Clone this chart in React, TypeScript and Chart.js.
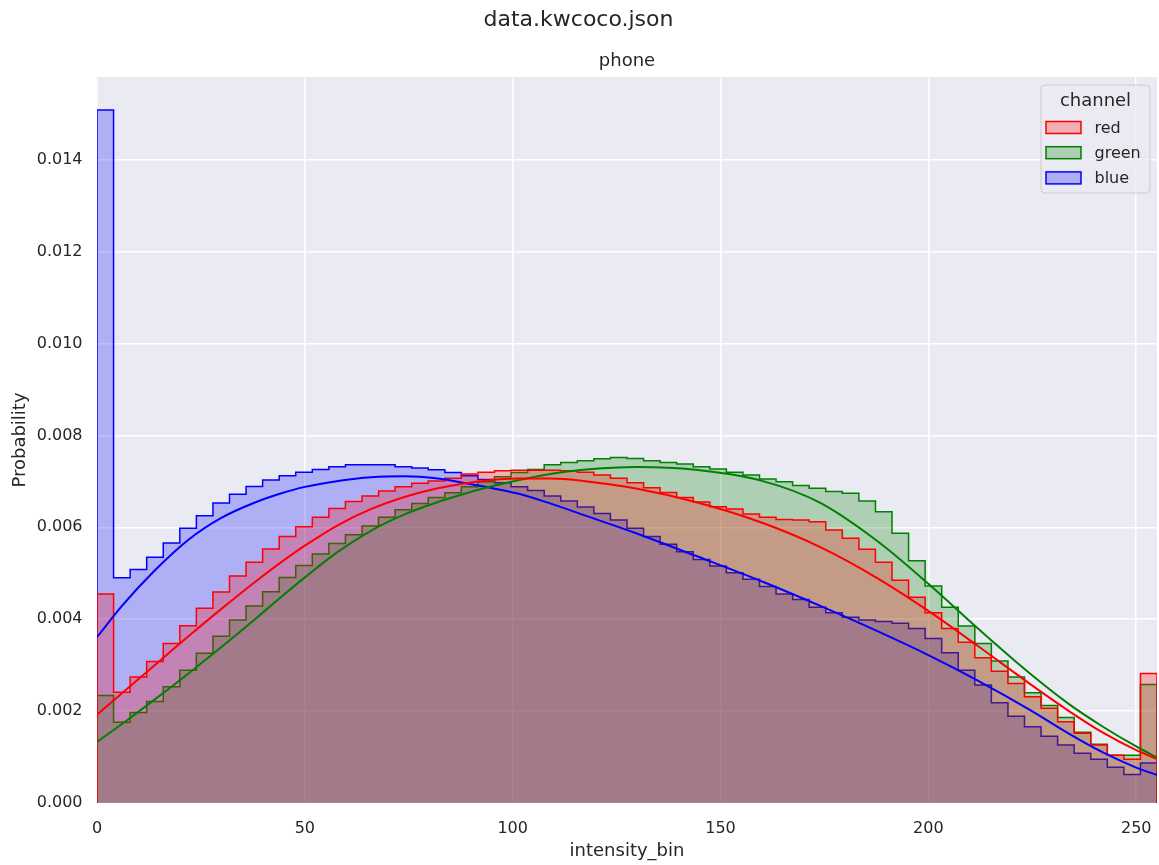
import React, { useEffect, useRef } from "react";
import { Chart, registerables } from "chart.js";

Chart.register(...registerables);

// ---- text ----
const SUPTITLE = "data.kwcoco.json";
const PANEL_TITLE = "phone";
const X_LABEL = "intensity_bin";
const Y_LABEL = "Probability";
const LEGEND_TITLE = "channel";

// ---- categories / styling keys ----
const channels = ["red", "green", "blue"];
const channelColors = ["#ff0000", "#008000", "#0000ff"];
const channelFills = ["rgba(255,0,0,0.25)", "rgba(0,128,0,0.25)", "rgba(0,0,255,0.25)"];

// ---- histogram range (64 bins over 0..255) ----
const RANGE_MIN = 0;
const RANGE_MAX = 255;
const Y_MAX = 0.0158;

// ---- histogram densities per bin ----
const redHist = [
  0.00455, 0.00241, 0.00274, 0.00308, 0.00347, 0.00386, 0.00424, 0.00459,
  0.00494, 0.00524, 0.00553, 0.0058, 0.00601, 0.00622, 0.00641, 0.00656,
  0.00668, 0.00679, 0.00688, 0.00696, 0.00701, 0.00707, 0.00716, 0.0072,
  0.00723, 0.00724, 0.00724, 0.00724, 0.00723, 0.0072, 0.00714, 0.00707,
  0.00697, 0.00686, 0.00676, 0.00665, 0.00655, 0.00645, 0.0064, 0.00629,
  0.00622, 0.00617, 0.00616, 0.00612, 0.00594, 0.00576, 0.00552, 0.00524,
  0.00485, 0.00448, 0.00414, 0.0038, 0.0035, 0.00316, 0.00287, 0.0026,
  0.00231, 0.00206, 0.00177, 0.00152, 0.00126, 0.00104, 0.00095, 0.00282,
];
const greenHist = [
  0.00234, 0.00176, 0.00197, 0.00221, 0.00253, 0.00289, 0.00326, 0.00363,
  0.00398, 0.00429, 0.0046, 0.00491, 0.00517, 0.00542, 0.00565, 0.00584,
  0.00603, 0.00622, 0.00638, 0.00652, 0.00665, 0.00675, 0.00688, 0.00699,
  0.0071, 0.00719, 0.00726, 0.00736, 0.00741, 0.00745, 0.00749, 0.00752,
  0.0075, 0.00745, 0.00741, 0.00738, 0.00732, 0.00727, 0.0072, 0.00714,
  0.00705, 0.00699, 0.00691, 0.00685, 0.00678, 0.00674, 0.00657, 0.00634,
  0.00587, 0.00527, 0.00472, 0.00426, 0.00385, 0.00347, 0.00309, 0.00274,
  0.0024, 0.00212, 0.00186, 0.00154, 0.00128, 0.00104, 0.00104, 0.00258,
];
const blueHist = [
  0.01508, 0.0049, 0.00508, 0.00535, 0.00566, 0.00598, 0.00625, 0.00653,
  0.00672, 0.00689, 0.00703, 0.00712, 0.0072, 0.00726, 0.00732, 0.00736,
  0.00736, 0.00736, 0.00732, 0.00729, 0.00725, 0.00719, 0.00712, 0.00704,
  0.00697, 0.00688, 0.0068, 0.00668, 0.00657, 0.00644, 0.0063, 0.00616,
  0.00598, 0.0058, 0.00563, 0.00547, 0.0053, 0.00516, 0.00501, 0.00487,
  0.00471, 0.00455, 0.00443, 0.00426, 0.00414, 0.00404, 0.00398, 0.00395,
  0.00391, 0.0038, 0.00358, 0.00327, 0.00289, 0.00257, 0.00218, 0.00189,
  0.00166, 0.00145, 0.00126, 0.00108, 0.00095, 0.00078, 0.00062, 0.00087,
];

// ---- fitted curves (sampled) ----
const fitX = [0, 6, 14, 22, 30, 38, 44, 50, 58, 66, 74, 82, 88, 94, 101, 109, 117, 130, 144, 160, 174, 188, 200, 212, 224, 234, 242, 250, 255];
const redFit = [
  0.00192, 0.00239, 0.00301, 0.00363, 0.00423, 0.00481, 0.00522, 0.0056, 0.00605, 0.0064,
  0.00666, 0.00685, 0.00695, 0.00702, 0.00706, 0.00706, 0.00701, 0.00684, 0.00655, 0.0061,
  0.00557, 0.00488, 0.00418, 0.00341, 0.00262, 0.00199, 0.00153, 0.00115, 0.00096,
];
const greenFit = [
  0.00133, 0.00172, 0.00226, 0.00282, 0.0034, 0.004, 0.00446, 0.00491, 0.00547, 0.00593,
  0.00628, 0.00655, 0.00672, 0.00687, 0.00702, 0.00716, 0.00725, 0.00731, 0.00725, 0.00701,
  0.00653, 0.00568, 0.00477, 0.00379, 0.00285, 0.00214, 0.00166, 0.00123, 0.00099,
];
const blueFit = [
  0.00361, 0.00429, 0.00507, 0.00573, 0.00621, 0.00654, 0.00673, 0.00688, 0.00701, 0.00709,
  0.00711, 0.00706, 0.00697, 0.00687, 0.00674, 0.00652, 0.00627, 0.00586, 0.00538, 0.00482,
  0.00429, 0.00373, 0.00322, 0.00266, 0.00205, 0.0015, 0.0011, 0.00077, 0.00061,
];

// ---- ticks ----
const xTickValues = [0, 50, 100, 150, 200, 250];
const xTickLabels = ["0", "50", "100", "150", "200", "250"];
const yTickValues = [0, 0.002, 0.004, 0.006, 0.008, 0.01, 0.012, 0.014];
const yTickLabels = ["0.000", "0.002", "0.004", "0.006", "0.008", "0.010", "0.012", "0.014"];

const FONT = "'DejaVu Sans', 'Liberation Sans', sans-serif";
const TEXT = "#262626";
const BG = "#eaeaf2";

function stepPoints(hist: number[]) {
  const w = (RANGE_MAX - RANGE_MIN) / hist.length;
  const pts: { x: number; y: number }[] = [{ x: RANGE_MIN, y: 0 }];
  hist.forEach((v, i) => pts.push({ x: RANGE_MIN + i * w, y: v }));
  pts.push({ x: RANGE_MAX, y: hist[hist.length - 1] });
  pts.push({ x: RANGE_MAX, y: 0 });
  return pts;
}

const plotBgPlugin = {
  id: "plotBg",
  beforeDraw(chart: any) {
    const { ctx, chartArea: a } = chart;
    ctx.save();
    ctx.fillStyle = BG;
    ctx.fillRect(a.left, a.top, a.right - a.left, a.bottom - a.top);
    ctx.restore();
  },
};

const legendPlugin = {
  id: "channelLegend",
  afterDraw(chart: any) {
    const { ctx, chartArea: a } = chart;
    const w = 109;
    const h = 108;
    const x0 = a.right - 7 - w;
    const y0 = a.top + 8;
    ctx.save();
    ctx.beginPath();
    if ((ctx as any).roundRect) (ctx as any).roundRect(x0, y0, w, h, 4);
    else ctx.rect(x0, y0, w, h);
    ctx.fillStyle = "rgba(234,234,242,0.8)";
    ctx.fill();
    ctx.strokeStyle = "#cccccc";
    ctx.lineWidth = 1;
    ctx.stroke();

    ctx.fillStyle = TEXT;
    ctx.font = `18px ${FONT}`;
    ctx.textAlign = "center";
    ctx.textBaseline = "middle";
    ctx.fillText(LEGEND_TITLE, x0 + w / 2, y0 + 16);

    ctx.font = `16px ${FONT}`;
    ctx.textAlign = "left";
    channels.forEach((name, i) => {
      const cy = y0 + 42.5 + i * 25.2;
      const px = x0 + 5;
      ctx.fillStyle = BG;
      ctx.fillRect(px, cy - 6, 35, 12);
      ctx.fillStyle = channelFills[i];
      ctx.fillRect(px, cy - 6, 35, 12);
      ctx.strokeStyle = channelColors[i];
      ctx.lineWidth = 1.5;
      ctx.strokeRect(px, cy - 6, 35, 12);
      ctx.fillStyle = TEXT;
      ctx.fillText(name, x0 + 53.5, cy + 1);
    });
    ctx.restore();
  },
};

export default function App() {
  const canvasRef = useRef<HTMLCanvasElement | null>(null);

  useEffect(() => {
    document.body.style.margin = "0";
    const canvas = canvasRef.current;
    if (!canvas) return;

    const fits = [redFit, greenFit, blueFit];
    const hists = [redHist, greenHist, blueHist];

    const fitDatasets = fits.map((f, i) => ({
      label: channels[i] + " fit",
      data: fitX.map((x, j) => ({ x, y: f[j] })),
      borderColor: channelColors[i],
      borderWidth: 2,
      pointRadius: 0,
      fill: false,
      cubicInterpolationMode: "monotone" as const,
    }));
    const histDatasets = hists.map((h, i) => ({
      label: channels[i],
      data: stepPoints(h),
      borderColor: channelColors[i],
      backgroundColor: channelFills[i],
      borderWidth: 1.5,
      pointRadius: 0,
      stepped: "before" as const,
      fill: "origin",
    }));

    const chart = new Chart(canvas, {
      type: "line",
      data: { datasets: [...fitDatasets, ...histDatasets] as any },
      options: {
        animation: false,
        responsive: false,
        devicePixelRatio: 1,
        layout: { padding: { left: 0, right: 2, top: 0, bottom: 0 } },
        plugins: {
          legend: { display: false },
          tooltip: { enabled: false },
          title: {
            display: true,
            text: SUPTITLE,
            color: TEXT,
            font: { family: FONT, size: 22, weight: "normal" as any },
            padding: { top: 7, bottom: 0 },
          },
          subtitle: {
            display: true,
            text: PANEL_TITLE,
            color: TEXT,
            fullSize: false,
            font: { family: FONT, size: 18, weight: "normal" as any },
            padding: { top: 16.8, bottom: 5.2 },
          },
        },
        scales: {
          x: {
            type: "linear",
            min: RANGE_MIN,
            max: RANGE_MAX,
            grid: { color: "#ffffff", lineWidth: 1.5, drawTicks: false },
            border: { display: false },
            ticks: {
              color: TEXT,
              font: { family: FONT, size: 16 },
              padding: 16.5,
              maxRotation: 0,
              callback: (v: any) => {
                const k = xTickValues.indexOf(Number(v));
                return k >= 0 ? xTickLabels[k] : "";
              },
            },
            afterBuildTicks: (s: any) => {
              s.ticks = xTickValues.map((v) => ({ value: v }));
            },
            afterFit: (s: any) => {
              s.height = 62;
              s.paddingLeft = 0;
              s.paddingRight = 0;
            },
            title: {
              display: true,
              text: X_LABEL,
              color: TEXT,
              font: { family: FONT, size: 18 },
              padding: { top: 0, bottom: 2.5 },
            },
          },
          y: {
            type: "linear",
            min: 0,
            max: Y_MAX,
            grid: { color: "#ffffff", lineWidth: 1.5, drawTicks: false },
            border: { display: false },
            ticks: {
              color: TEXT,
              font: { family: FONT, size: 16 },
              padding: 14.5,
              callback: (v: any) => {
                const k = yTickValues.findIndex((t) => Math.abs(t - Number(v)) < 1e-9);
                return k >= 0 ? yTickLabels[k] : "";
              },
            },
            afterBuildTicks: (s: any) => {
              s.ticks = yTickValues.map((v) => ({ value: v }));
            },
            afterFit: (s: any) => {
              s.width = 97;
              s.paddingTop = 0;
              s.paddingBottom = 0;
            },
            title: {
              display: true,
              text: Y_LABEL,
              color: TEXT,
              font: { family: FONT, size: 18 },
              padding: { top: 9.2, bottom: 0 },
            },
          },
        },
      },
      plugins: [plotBgPlugin, legendPlugin],
    });

    return () => chart.destroy();
  }, []);

  return (
    <div style={{ width: 1159, height: 865, background: "#ffffff" }}>
      <canvas ref={canvasRef} width={1159} height={865} style={{ display: "block" }} />
    </div>
  );
}
